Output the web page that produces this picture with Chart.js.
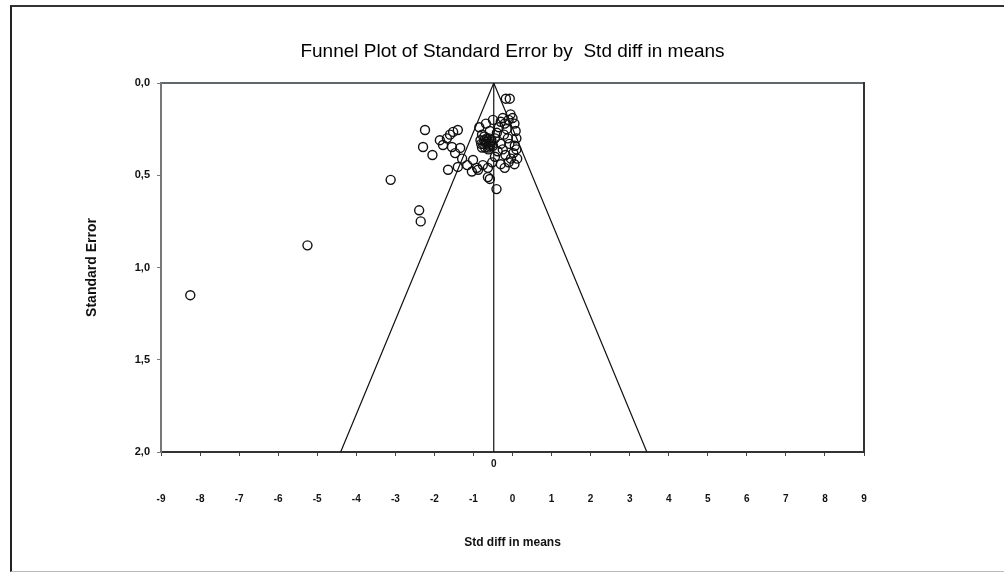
<!DOCTYPE html>
<html>
<head>
<meta charset="utf-8">
<script src="https://cdn.jsdelivr.net/npm/chart.js@4/dist/chart.umd.min.js"></script>
<style>
  body { margin: 0; background: #fff; }
  #wrap { position: relative; width: 1004px; height: 573px; }
  #frame { position: absolute; left: 10px; top: 5px; width: 992px; height: 564px;
           border-top: 2px solid #333; border-left: 2px solid #222; border-bottom: 1px solid #bbb; }
  #chart { position: absolute; left: 0; top: 0; }
</style>
</head>
<body>
<div id="wrap">
  <div id="frame"></div>
  <canvas id="chart" width="1004" height="573"></canvas>
</div>
<script>
// study effects (std diff in means) and their standard errors
var studyEffect = [
  -8.25, -5.25, -3.12, -2.39, -2.35, -2.24, -2.29, -2.05, -1.86, -1.68,
  -1.60, -1.52, -1.40, -1.78, -1.55, -1.34, -1.47, -1.29, -1.40, -1.16,
  -1.01, -1.65, -1.04, -0.88, -0.76, -0.63, -0.41, -0.58, -0.63, -0.91,
  -0.17, -0.07,
  -0.85, -0.78, -0.72, -0.66, -0.60, -0.55, -0.50, -0.62, -0.70, -0.80,
  -0.45, -0.40, -0.35, -0.30, -0.25, -0.20, -0.15, -0.10, -0.05, 0.00,
  0.05, 0.08, 0.10, 0.06, 0.02, -0.04, -0.10, -0.18, -0.25, -0.30,
  -0.38, -0.45, -0.52, -0.30, -0.20, 0.05, 0.12, 0.10, -0.12, -0.22,
  -0.08, -0.58, -0.68, -0.50,
  -0.82, -0.75, -0.68, -0.60, -0.54, -0.78, -0.66, -0.56, -0.72, -0.62
];
var studyStdErr = [
  1.15, 0.88, 0.525, 0.69, 0.75, 0.255, 0.347, 0.39, 0.31, 0.30,
  0.28, 0.265, 0.255, 0.336, 0.347, 0.352, 0.38, 0.41, 0.455, 0.445,
  0.417, 0.47, 0.48, 0.47, 0.445, 0.46, 0.575, 0.52, 0.51, 0.46,
  0.085, 0.085,
  0.24, 0.28, 0.31, 0.33, 0.30, 0.32, 0.34, 0.36, 0.35, 0.33,
  0.30, 0.27, 0.24, 0.21, 0.19, 0.22, 0.25, 0.20, 0.17, 0.19,
  0.22, 0.26, 0.30, 0.34, 0.38, 0.41, 0.43, 0.39, 0.36, 0.33,
  0.37, 0.40, 0.43, 0.44, 0.46, 0.44, 0.41, 0.36, 0.30, 0.28,
  0.33, 0.26, 0.22, 0.20,
  0.31, 0.33, 0.32, 0.34, 0.31, 0.35, 0.30, 0.33, 0.29, 0.35
];
var pooledEffect = -0.48;
var maxStdErr = 2.0;
var xRange = [-9, 9];
var yTicks = [0, 0.5, 1, 1.5, 2];

var points = studyEffect.map(function (v, i) { return { x: v, y: studyStdErr[i] }; });
var funnel = [
  { x: pooledEffect - 1.96 * maxStdErr, y: maxStdErr },
  { x: pooledEffect, y: 0 },
  { x: pooledEffect + 1.96 * maxStdErr, y: maxStdErr }
];
var meanLine = [{ x: pooledEffect, y: 0 }, { x: pooledEffect, y: maxStdErr }];

var tickFont = { family: "Liberation Sans", size: 10, weight: "bold" };

// little "0" written under the pooled-effect line, as in the original
var meanLabel = {
  id: "meanLabel",
  afterDraw: function (chart) {
    var c = chart.ctx, sx = chart.scales.x;
    c.save();
    c.font = "bold 10px 'Liberation Sans'";
    c.fillStyle = "#111";
    c.textAlign = "center";
    c.textBaseline = "middle";
    c.fillText("0", sx.getPixelForValue(pooledEffect), chart.chartArea.bottom + 12);
    c.restore();
  }
};

new Chart(document.getElementById("chart"), {
  type: "scatter",
  data: {
    datasets: [
      {
        data: points,
        pointRadius: 4.5,
        pointBorderWidth: 1.4,
        borderColor: "#111",
        backgroundColor: "rgba(0,0,0,0)"
      },
      {
        data: funnel,
        showLine: true,
        pointRadius: 0,
        borderColor: "#111",
        borderWidth: 1.2
      },
      {
        data: meanLine,
        showLine: true,
        pointRadius: 0,
        borderColor: "#111",
        borderWidth: 1.2
      }
    ]
  },
  options: {
    responsive: false,
    animation: false,
    plugins: { legend: { display: false }, tooltip: { enabled: false } },
    layout: { padding: 0 },
    scales: {
      x: {
        type: "linear", position: "bottom",
        min: xRange[0], max: xRange[1],
        afterFit: function (s) { s.height = 121; },
        ticks: { stepSize: 1, autoSkip: false, maxRotation: 0, padding: 37, color: "#111", font: tickFont },
        grid: { drawOnChartArea: false, drawTicks: true, tickLength: 4, color: "#444" },
        border: { color: "#333", width: 2 },
        title: { display: true, text: "Std diff in means", color: "#111",
                 font: { family: "Liberation Sans", size: 12, weight: "bold" }, padding: { bottom: 23 } }
      },
      x2: {
        type: "linear", position: "top",
        min: xRange[0], max: xRange[1],
        afterFit: function (s) { s.height = 83; },
        ticks: { display: false },
        grid: { display: false },
        border: { color: "#5a6870", width: 2 },
        title: { display: true, text: "Funnel Plot of Standard Error by  Std diff in means",
                 color: "#000", font: { family: "Liberation Sans", size: 19 }, padding: { top: 40 } }
      },
      y: {
        type: "linear", position: "left", reverse: true,
        min: 0, max: maxStdErr,
        afterFit: function (s) { s.width = 161; },
        afterBuildTicks: function (s) { s.ticks = yTicks.map(function (v) { return { value: v }; }); },
        ticks: { padding: 7, color: "#111", font: { family: "Liberation Sans", size: 11, weight: "bold" },
                 callback: function (v) { return v.toFixed(1).replace(".", ","); } },
        grid: { drawOnChartArea: false, drawTicks: true, tickLength: 4, color: "#777" },
        border: { color: "#777", width: 2 },
        title: { display: true, text: "Standard Error", color: "#111",
                 font: { family: "Liberation Sans", size: 14, weight: "bold" }, padding: { top: 84 } }
      },
      y2: {
        type: "linear", position: "right",
        min: 0, max: maxStdErr,
        afterFit: function (s) { s.width = 140; },
        ticks: { display: false },
        grid: { display: false },
        border: { color: "#333", width: 2 }
      }
    }
  },
  plugins: [meanLabel]
});
</script>
</body>
</html>
